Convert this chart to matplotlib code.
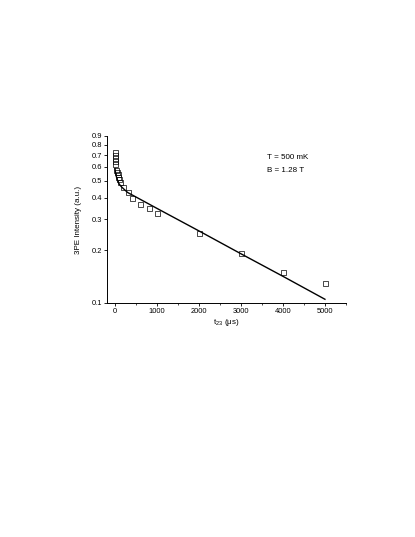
import matplotlib
matplotlib.use("Agg")
import matplotlib.pyplot as plt
from matplotlib.ticker import FixedLocator, MultipleLocator, NullLocator

plt.rcParams["font.family"] = ["Liberation Sans", "DejaVu Sans"]
plt.rcParams["mathtext.fontset"] = "custom"
plt.rcParams["mathtext.rm"] = "Liberation Sans"

# measured 3PE intensity vs t23
t23_us = [0, 2, 5, 8, 10, 24, 40, 64, 80, 95, 110,
          200, 300, 400, 600, 800, 1000, 2000, 3000, 4000, 5000]
intensity = [0.73, 0.70, 0.67, 0.645, 0.62, 0.575, 0.56, 0.545, 0.527, 0.51, 0.49,
             0.462, 0.431, 0.397, 0.367, 0.348, 0.327, 0.251, 0.194, 0.150, 0.130]

# fit curve
fit_t = [0, 10, 25, 50, 75, 100, 150, 200, 300, 1000, 2000, 3000, 4000, 5000]
fit_y = [0.585, 0.56, 0.535, 0.51, 0.492, 0.478, 0.462, 0.450, 0.428,
         0.347, 0.258, 0.191, 0.142, 0.105]

y_ticks = [0.1, 0.2, 0.3, 0.4, 0.5, 0.6, 0.7, 0.8, 0.9]
x_ticks = [0, 1000, 2000, 3000, 4000, 5000]

fig = plt.figure(figsize=(4.15, 5.37), dpi=100)
ax = fig.add_axes([0.2586, 0.4358, 0.575, 0.311])

ax.plot(fit_t, fit_y, "k-", linewidth=1.0)
ax.plot(t23_us, intensity, "s", markerfacecolor="none", markeredgecolor="black",
        markersize=3.6, markeredgewidth=0.5)

ax.set_yscale("log")
ax.set_ylim(0.1, 0.9)
ax.set_xlim(-183, 5500)
ax.yaxis.set_major_locator(FixedLocator(y_ticks))
ax.yaxis.set_minor_locator(NullLocator())
ax.set_yticklabels([f"{v:.1f}" for v in y_ticks])
ax.xaxis.set_major_locator(FixedLocator(x_ticks))
ax.xaxis.set_minor_locator(MultipleLocator(500))

for s in ("top", "right"):
    ax.spines[s].set_visible(False)
for s in ("left", "bottom"):
    ax.spines[s].set_linewidth(0.7)

ax.tick_params(which="major", direction="out", length=2.2, width=0.6,
               labelsize=5.4, pad=1.5)
ax.tick_params(which="minor", direction="out", length=1.3, width=0.5)

ax.set_xlabel("t$_{\\mathregular{23}}$ (μs)", fontsize=5.8, labelpad=1.5)
ax.set_ylabel("3PE Intensity (a.u.)", fontsize=5.8, labelpad=7)

ax.text(0.668, 0.870, "T = 500 mK", transform=ax.transAxes,
        ha="left", va="center", fontsize=5.8)
ax.text(0.668, 0.796, "B = 1.28 T", transform=ax.transAxes,
        ha="left", va="center", fontsize=5.8)

fig.savefig("out.png", dpi=100)
